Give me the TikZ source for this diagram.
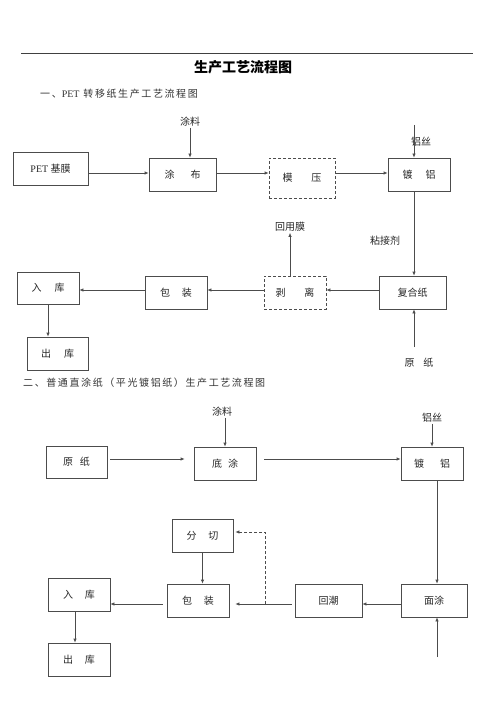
\documentclass[tikz,border=0pt]{standalone}
\usepackage{fontspec}
\setmainfont{Liberation Serif}
\newfontfamily\cjk{Noto Sans CJK SC}
\newfontfamily\cjkwide[LetterSpace=16]{Noto Sans CJK SC}
\usetikzlibrary{arrows.meta}

\begin{document}
\begin{tikzpicture}[x=1pt, y=-1pt,
    box/.style={draw=black!70, line width=0.7pt, minimum width=#1, minimum height=33pt,
      inner sep=0pt, font=\cjk\fontsize{10}{12}\selectfont, text=black!85},
    box/.default=62pt,
    dbox/.style={box=#1, dashed, dash pattern=on 3pt off 2pt},
    dbox/.default=62pt,
    lab/.style={inner sep=1pt, font=\cjk\fontsize{10}{12}\selectfont, text=black!85},
    arr/.style={draw=black!70, line width=0.7pt, -{Latex[length=4pt,width=3.5pt]}},
    head/.style={anchor=west, inner sep=0pt, font=\cjkwide\fontsize{10}{12}\selectfont, text=black!80}]
  \useasboundingbox (0,0) rectangle (500,708);

  % heading
  \coordinate (ruleL) at (21,53);
  \coordinate (ruleR) at (473,53);
  \draw[black!75, line width=0.6pt] (ruleL) -- (ruleR);
  \node[font=\cjk\bfseries\fontsize{14}{16}\selectfont] (title) at (243,67) {生产工艺流程图};
  \node[head] (sub1) at (40,94) {一、{\rmfamily PET} 转移纸生产工艺流程图};

  % part one: PET transfer paper
  \coordinate (rowA) at (0,173);
  \coordinate (rowB) at (0,290);
  \node[box=75pt] (pet) at (50.5,168.5) {{\rmfamily PET} 基膜};
  \node[box=67pt] (tubu) at (182.5,174.5) {涂\hspace{1.6em}布};
  \node[dbox=66pt, minimum height=40pt] (moya) at (302,178) {模\hspace{1.9em}压};
  \node[box] (dulv1) at (419,174.5) {镀\hspace{1.3em}铝};
  \node[box=67pt] (fuhe) at (412.5,292.5) {复合纸};
  \node[dbox] (boli) at (295,292.5) {剥\hspace{1.9em}离};
  \node[box] (baozhuang1) at (176,293) {包\hspace{1.2em}装};
  \node[box, minimum height=32pt] (ruku1) at (48,288) {入\hspace{1.3em}库};
  \node[box=61pt] (chuku1) at (57.5,353.5) {出\hspace{1.3em}库};

  \node[lab] (tuliao1) at (190,122) {涂料};
  \coordinate (lvsiTop1) at (414,125);
  \node[lab] (lvsi1) at (421,142) {铝丝};
  \node[lab] (zhanjie) at (385,241) {粘接剂};
  \node[lab] (huiyong) at (290,227) {回用膜};
  \coordinate (yuanzhiTop1) at (414,347);
  \node[lab] (yuanzhi1) at (419,363) {原\hspace{0.9em}纸};

  \draw[arr] (pet.east |- rowA) -- (tubu.west |- rowA);
  \draw[arr] (tubu.east |- rowA) -- (moya.west |- rowA);
  \draw[arr] (moya.east |- rowA) -- (dulv1.west |- rowA);
  \draw[arr] (tuliao1.south) -- (tuliao1.south |- tubu.north);
  \draw[arr] (lvsiTop1) -- (lvsiTop1 |- dulv1.north);
  \draw[arr] (dulv1.south -| lvsiTop1) -- (fuhe.north -| lvsiTop1);
  \draw[arr] (yuanzhiTop1) -- (yuanzhiTop1 |- fuhe.south);
  \draw[arr] (fuhe.west |- rowB) -- (boli.east |- rowB);
  \draw[arr] (boli.north -| huiyong) -- (huiyong.south);
  \draw[arr] (boli.west |- rowB) -- (baozhuang1.east |- rowB);
  \draw[arr] (baozhuang1.west |- rowB) -- (ruku1.east |- rowB);
  \draw[arr] (ruku1.south) -- (ruku1.south |- chuku1.north);

  % part two: plain direct-coated paper
  \node[head] (sub2) at (23,383) {二、普通直涂纸（平光镀铝纸）生产工艺流程图};
  \coordinate (rowC) at (0,459);
  \coordinate (rowD) at (0,604);
  \coordinate (cutRow) at (0,532);
  \node[box=61pt, minimum height=32pt] (yuanzhi) at (76.5,462) {原\hspace{0.7em}纸};
  \node[box] (ditu) at (225,463.5) {底\hspace{0.6em}涂};
  \node[box] (dulv2) at (432,463.5) {镀\hspace{1.6em}铝};
  \node[box=66pt] (miantu) at (434,600.5) {面涂};
  \node[box=67pt] (huichao) at (328.5,600.5) {回潮};
  \node[box] (baozhuang2) at (198,600.5) {包\hspace{1.2em}装};
  \node[box=61pt] (fenqie) at (202.5,535.5) {分\hspace{1.2em}切};
  \node[box] (ruku2) at (79,594.5) {入\hspace{1.2em}库};
  \node[box] (chuku2) at (79,659.5) {出\hspace{1.2em}库};

  \node[lab] (tuliao2) at (222,412) {涂料};
  \node[lab] (lvsi2) at (432,418) {铝丝};
  \coordinate (colE) at (437,0);
  \coordinate (miantuBot) at (437,657);
  \coordinate (branch) at (265,604);

  \draw[arr] (tuliao2.south -| ditu.north) -- (ditu.north);
  \draw[arr] (lvsi2.south) -- (lvsi2.south |- dulv2.north);
  \draw[arr, shorten <=3pt, shorten >=9pt] (yuanzhi.east |- rowC) -- (ditu.west |- rowC);
  \draw[arr, shorten <=8pt] (ditu.east |- rowC) -- (dulv2.west |- rowC);
  \draw[arr] (dulv2.south -| colE) -- (miantu.north -| colE);
  \draw[arr] (miantuBot) -- (miantuBot |- miantu.south);
  \draw[arr] (miantu.west |- rowD) -- (huichao.east |- rowD);
  \draw[arr, shorten <=3pt, shorten >=6pt] (huichao.west |- rowD) -- (baozhuang2.east |- rowD);
  \draw[arr, dashed, dash pattern=on 3pt off 2pt, shorten >=2pt] (branch) |- (fenqie.east |- cutRow);
  \draw[arr] (fenqie.south) -- (fenqie.south |- baozhuang2.north);
  \draw[arr, shorten <=4pt] (baozhuang2.west |- rowD) -- (ruku2.east |- rowD);
  \draw[arr] ([xshift=-4pt]ruku2.south) -- ([xshift=-4pt]ruku2.south |- chuku2.north);
\end{tikzpicture}
\end{document}
